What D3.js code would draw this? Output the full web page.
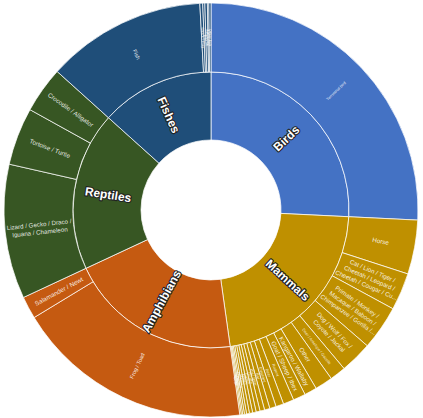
<!DOCTYPE html>
<html>
<head>
<meta charset="utf-8">
<script src="https://cdn.jsdelivr.net/npm/d3@7"></script>
<style>
  body { margin: 0; background: #fff; }
  svg { display: block; font-family: "Liberation Sans", Arial, sans-serif; }
</style>
</head>
<body>
<svg id="chart" width="423" height="418"></svg>
<script>
// top level groups and their colours
const categories = ["Birds", "Mammals", "Amphibians", "Reptiles", "Fishes"];
const catColors = ["#4472C4", "#BF9000", "#C55A11", "#375623", "#1F4E79"];

// second ring, one pair of arrays per group (\n marks a wrapped label line)
const birdTypes = ["Terrestrial bird"];
const birdCounts = [928];

const mammalTypes = ["Horse", "Cat / Lion / Tiger /\nCheetah / Leopard /\nCheetah / Cougar / Cu...",
  "Primate / Monkey /\nMacaque / Baboon /\nChimpanzee / Gorilla /...", "Dog / Wolf / Fox /\nCoyote / Jackal",
  "Deer / Antelope / Gazelle", "Other", "Kangaroo / Wallaby", "Goat / Sheep / Ibex", "Rodent",
  "Bear", "Elephant", "Bat", "Pig / Boar", "Giraffe", "Camel", "Rhino", "Hippo", "Raccoon",
  "Otter", "Whale", "Seal"];
const mammalCounts = [152, 105, 125, 90, 45, 50, 35, 35, 30, 22, 18, 15, 13, 11, 10, 9, 8, 6, 5, 4, 4];

const amphibianTypes = ["Frog / Toad", "Salamander / Newt"];
const amphibianCounts = [667, 63];

const reptileTypes = ["Lizard / Gecko / Draco /\nIguana / Chameleon", "Tortoise / Turtle", "Crocodile / Alligator"];
const reptileCounts = [378, 162, 130];

const fishTypes = ["Fish", "Shark / Ray", "Eel", "Seahorse", "Lamprey", "Other fish"];
const fishCounts = [449, 8, 6, 7, 4, 6];

function main() {
  var svg = d3.select("#chart");
  var cx = 211, cy = 210;
  var r0 = 70, r1 = 138, r2 = 207;

  var kids = [
    [birdTypes, birdCounts],
    [mammalTypes, mammalCounts],
    [amphibianTypes, amphibianCounts],
    [reptileTypes, reptileCounts],
    [fishTypes, fishCounts]
  ];

  var tree = {
    name: "all",
    children: categories.map(function(c, i) {
      return {
        name: c,
        color: catColors[i],
        children: kids[i][0].map(function(n, j) { return { name: n, value: kids[i][1][j] }; })
      };
    })
  };

  var root = d3.hierarchy(tree).sum(d => d.value || 0);
  d3.partition().size([2 * Math.PI, 3])(root);

  // depth 1 -> inner ring, depth 2 -> outer ring
  var radius = d3.scaleOrdinal().domain([1, 2, 3]).range([r0, r1, r2]);

  var arc = d3.arc()
    .startAngle(d => d.x0)
    .endAngle(d => d.x1)
    .innerRadius(d => radius(d.depth))
    .outerRadius(d => radius(d.depth + 1));

  var g = svg.append("g").attr("transform", "translate(" + cx + "," + cy + ")");

  var nodes = root.descendants().filter(d => d.depth > 0);

  g.selectAll("path.slice")
    .data(nodes)
    .enter().append("path")
    .attr("class", "slice")
    .attr("d", arc)
    .attr("fill", d => d.depth === 1 ? d.data.color : d.parent.data.color)
    .attr("stroke", "rgba(255,255,255,0.8)")
    .attr("stroke-width", 0.9);

  function labelTransform(d, r) {
    var a = (d.x0 + d.x1) / 2 * 180 / Math.PI;
    return "rotate(" + (a - 90) + ") translate(" + r + ",0) rotate(" + (a < 180 ? 0 : 180) + ")";
  }

  // inner ring labels
  g.selectAll("text.cat")
    .data(root.children)
    .enter().append("text")
    .attr("class", "cat")
    .attr("transform", d => labelTransform(d, (r0 + r1) / 2))
    .attr("text-anchor", "middle")
    .attr("dy", "0.35em")
    .attr("font-size", 12)
    .attr("font-weight", "bold")
    .attr("fill", "#fff")
    .attr("stroke", "#222")
    .attr("stroke-width", 2.2)
    .attr("stroke-linejoin", "round")
    .attr("paint-order", "stroke")
    .text(d => d.data.name);

  // outer ring labels
  var leaves = root.leaves();
  var outer = g.selectAll("text.leaf")
    .data(leaves)
    .enter().append("text")
    .attr("class", "leaf")
    .attr("transform", d => labelTransform(d, (r1 + r2) / 2))
    .attr("text-anchor", "middle")
    .attr("fill", "rgba(255,255,255,0.88)")
    .attr("font-size", function(d) {
      var deg = (d.x1 - d.x0) * 180 / Math.PI;
      if (deg > 80) return 4;
      if (deg > 40) return 5.5;
      if (deg >= 3 && d.data.name.length < 22) return 6.3;
      if (deg >= 3) return 6.2;
      return 4;
    });

  outer.each(function(d) {
    var lines = d.data.name.split("\n");
    var deg = (d.x1 - d.x0) * 180 / Math.PI;
    if (deg < 5 && lines[0].length > 20) d3.select(this).attr("font-size", 4);
    var fs = +d3.select(this).attr("font-size");
    var lh = fs * 1.25;
    d3.select(this).selectAll("tspan")
      .data(lines)
      .enter().append("tspan")
      .attr("x", 0)
      .attr("y", (l, i) => (i - (lines.length - 1) / 2) * lh)
      .attr("dy", "0.35em")
      .text(l => l);
  });
}

main();
</script>
</body>
</html>
